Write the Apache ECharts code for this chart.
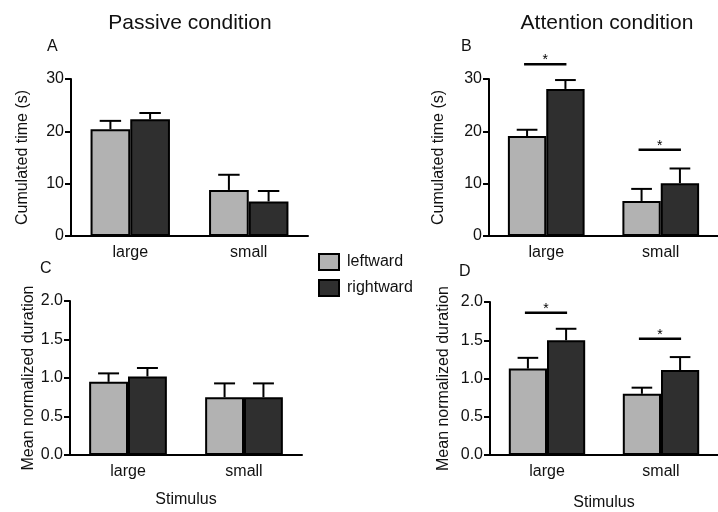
<!DOCTYPE html>
<html>
<head>
<meta charset="utf-8">
<script src="https://cdn.jsdelivr.net/npm/echarts@6/dist/echarts.min.js"></script>
<style>html,body{margin:0;padding:0;background:#fff}#c{width:718px;height:512px}</style>
</head>
<body>
<div id="c"></div>
<script>
// ---- data ----
var categories = ['large', 'small'];
var seriesNames = ['leftward', 'rightward'];
// Panel A: passive, cumulated time (s)
var A_left = [20.4, 8.8],  A_leftErr = [1.6, 2.9];
var A_right = [22.3, 6.6], A_rightErr = [1.2, 2.0];
// Panel B: attention, cumulated time (s)
var B_left = [19.1, 6.7],  B_leftErr = [1.2, 2.3];
var B_right = [28.1, 10.1], B_rightErr = [1.7, 2.8];
// Panel C: passive, mean normalized duration
var C_left = [0.95, 0.75], C_leftErr = [0.11, 0.18];
var C_right = [1.02, 0.75], C_rightErr = [0.11, 0.18];
// Panel D: attention, mean normalized duration
var D_left = [1.13, 0.80], D_leftErr = [0.14, 0.08];
var D_right = [1.50, 1.11], D_rightErr = [0.15, 0.17];
// significance brackets: [category index, height]
var B_sig = [[0, 32.8], [1, 16.5]];
var D_sig = [[0, 1.86], [1, 1.52]];
var timeTicks = [0, 10, 20, 30];
var durTicks = [0.0, 0.5, 1.0, 1.5, 2.0];

// ---- styles ----
var FONT = '"Liberation Sans", Arial, sans-serif';
var GAP = 0.33;
var LIGHT = '#b2b2b2', DARK = '#2f2f2f';

var chart = echarts.init(document.getElementById('c'));

var grids = [
  {left: 71, top: 79, width: 237, height: 157},
  {left: 489, top: 79, width: 234, height: 157},
  {left: 70, top: 301, width: 232, height: 154},
  {left: 490, top: 302, width: 233, height: 156}
];

function xAx(i, withName) {
  return {
    type: 'category', gridIndex: i, data: categories,
    axisLine: {lineStyle: {color: '#000', width: 2}},
    axisTick: {alignWithLabel: true, length: 5, lineStyle: {color: '#000', width: 2}},
    axisLabel: {color: '#111', fontSize: 16, fontFamily: FONT, margin: 9},
    name: withName ? 'Stimulus' : '', nameLocation: 'middle', nameGap: withName[1] || 36,
    nameTextStyle: {color: '#111', fontSize: 16, fontFamily: FONT}
  };
}
function yAx(i, ticks, gap, dec) {
  return {
    type: 'value', gridIndex: i, min: ticks[0], max: ticks[ticks.length - 1],
    interval: ticks[1] - ticks[0],
    axisLine: {show: true, lineStyle: {color: '#000', width: 2}},
    axisTick: {show: true, length: 6, lineStyle: {color: '#000', width: 2}},
    splitLine: {show: false},
    axisLabel: {color: '#111', fontSize: 16, fontFamily: FONT, margin: 7,
      formatter: function (v) { return dec ? v.toFixed(1) : String(v); }},
    name: dec ? 'Mean normalized duration' : 'Cumulated time (s)',
    nameLocation: 'middle', nameRotate: 90, nameGap: gap,
    nameTextStyle: {color: '#111', fontSize: 16, fontFamily: FONT}
  };
}

function bar(i, name, data, color) {
  return {
    type: 'bar', name: name, xAxisIndex: i, yAxisIndex: i, data: data,
    barGap: '0%', barCategoryGap: (GAP * 100) + '%',
    itemStyle: {color: color, borderColor: '#000', borderWidth: 2},
    emphasis: {disabled: true}, z: 2
  };
}

function errSeries(i, left, leftErr, right, rightErr) {
  var d = [];
  for (var k = 0; k < categories.length; k++) {
    d.push([k, left[k], leftErr[k], -1]);
    d.push([k, right[k], rightErr[k], 1]);
  }
  return {
    type: 'custom', xAxisIndex: i, yAxisIndex: i, data: d, z: 3, silent: true, clip: false,
    renderItem: function (params, api) {
      var c = api.value(0), v = api.value(1), e = api.value(2), side = api.value(3);
      var base = api.coord([c, v]), top = api.coord([c, v + e]);
      var band = api.size([1, 0])[0];
      var bw = band * (1 - GAP) / 2;
      var x = base[0] + side * bw / 2;
      var hc = bw * 0.27;
      var st = {stroke: '#000', lineWidth: 2};
      return {type: 'group', children: [
        {type: 'line', shape: {x1: x, y1: base[1], x2: x, y2: top[1]}, style: st},
        {type: 'line', shape: {x1: x - hc, y1: top[1], x2: x + hc, y2: top[1]}, style: st}
      ]};
    }
  };
}

function sigSeries(i, sig) {
  return {
    type: 'custom', xAxisIndex: i, yAxisIndex: i, data: sig, z: 3, silent: true, clip: false,
    renderItem: function (params, api) {
      var p = api.coord([api.value(0), api.value(1)]);
      var band = api.size([1, 0])[0];
      var bw = band * (1 - GAP) / 2;
      return {type: 'group', children: [
        {type: 'line', shape: {x1: p[0] - bw / 2 - 3, y1: p[1], x2: p[0] + bw / 2 + 1, y2: p[1]},
          style: {stroke: '#000', lineWidth: 2.5}},
        {type: 'text', x: p[0] - 1, y: p[1] - 4,
          style: {text: '*', fill: '#000', font: '14px ' + FONT, align: 'center', verticalAlign: 'middle'}}
      ]};
    }
  };
}

var titleStyle = {color: '#111', fontSize: 21, fontWeight: 'normal', fontFamily: FONT};
var letterStyle = {color: '#111', fontSize: 16, fontWeight: 'normal', fontFamily: FONT};

chart.setOption({
  animation: false,
  title: [
    {text: 'Passive condition', left: 190, top: 13, textAlign: 'center', textStyle: titleStyle, padding: 0},
    {text: 'Attention condition', left: 607, top: 13, textAlign: 'center', textStyle: titleStyle, padding: 0},
    {text: 'A', left: 47, top: 39, textStyle: letterStyle, padding: 0},
    {text: 'B', left: 461, top: 39, textStyle: letterStyle, padding: 0},
    {text: 'C', left: 40, top: 261, textStyle: letterStyle, padding: 0},
    {text: 'D', left: 459, top: 264, textStyle: letterStyle, padding: 0}
  ],
  legend: {
    data: seriesNames, orient: 'vertical', left: 318, top: 253,
    itemWidth: 20, itemHeight: 16, itemGap: 8, icon: 'rect', padding: 0,
    textStyle: {color: '#111', fontSize: 16, fontFamily: FONT, padding: [0, 0, 0, 3]},
    selectedMode: false
  },
  grid: grids,
  xAxis: [xAx(0, false), xAx(1, false), xAx(2, [true, 37]), xAx(3, [true, 40])],
  yAxis: [yAx(0, timeTicks, 40, false), yAx(1, timeTicks, 42, false),
          yAx(2, durTicks, 33, true), yAx(3, durTicks, 38, true)],
  series: [
    bar(0, seriesNames[0], A_left, LIGHT), bar(0, seriesNames[1], A_right, DARK),
    bar(1, seriesNames[0], B_left, LIGHT), bar(1, seriesNames[1], B_right, DARK),
    bar(2, seriesNames[0], C_left, LIGHT), bar(2, seriesNames[1], C_right, DARK),
    bar(3, seriesNames[0], D_left, LIGHT), bar(3, seriesNames[1], D_right, DARK),
    errSeries(0, A_left, A_leftErr, A_right, A_rightErr),
    errSeries(1, B_left, B_leftErr, B_right, B_rightErr),
    errSeries(2, C_left, C_leftErr, C_right, C_rightErr),
    errSeries(3, D_left, D_leftErr, D_right, D_rightErr),
    sigSeries(1, B_sig),
    sigSeries(3, D_sig)
  ]
});
</script>
</body>
</html>
